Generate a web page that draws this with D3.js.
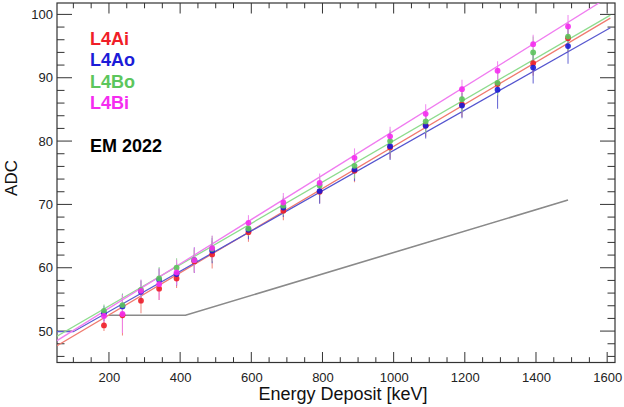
<!DOCTYPE html>
<html>
<head>
<meta charset="utf-8">
<script src="https://cdn.jsdelivr.net/npm/d3@7"></script>
<style>
  html, body { margin: 0; padding: 0; background: #fff; }
  svg { display: block; font-family: "Liberation Sans", Arial, Helvetica, sans-serif; }
</style>
</head>
<body>
<div id="chart"></div>
<script>
// beam energies (keV) shared by all four channels
const energy = [186, 238, 290, 341, 390, 440, 490, 592, 690, 792, 890, 990, 1090, 1192, 1292, 1392, 1490];

const seriesNames = ["L4Ai", "L4Ao", "L4Bo", "L4Bi"];
const seriesColors = ["#f01e28", "#1c1cd8", "#5cc65c", "#f52cf0"];
const lineColors = ["#f07b70", "#5a5ad0", "#8fdc8f", "#f07ef0"];

// mean ADC per energy
const adcL4Ai = [50.9, 52.5, 54.8, 56.7, 58.3, 61.0, 62.1, 65.6, 69.0, 72.0, 75.3, 79.0, 82.5, 85.8, 89.0, 92.3, 96.25];
const adcL4Ao = [52.8, 53.9, 56.2, 58.1, 59.0, 61.2, 62.7, 66.0, 69.5, 72.1, 75.5, 79.2, 82.4, 85.6, 88.1, 91.6, 95.0];
const adcL4Bo = [53.2, 54.1, 56.5, 58.3, 60.0, 61.2, 63.0, 66.2, 69.8, 73.0, 76.1, 80.0, 83.1, 86.6, 89.2, 94.0, 96.5];
const adcL4Bi = [52.4, 52.7, 56.35, 57.4, 59.25, 61.2, 63.1, 67.1, 70.3, 73.4, 77.35, 80.75, 84.3, 88.2, 91.1, 95.3, 98.1];

// error bar half-heights
const errL4Ai = [0.9, 3.2, 2.0, 1.8, 1.5, 1.8, 2.2, 1.5, 1.5, 1.8, 1.8, 1.8, 1.8, 2.0, 2.0, 2.0, 2.2];
const errL4Ao = [1.2, 2.0, 1.8, 1.8, 1.8, 2.0, 2.0, 1.5, 1.5, 2.0, 1.8, 2.2, 2.0, 2.0, 3.0, 2.5, 2.8];
const errL4Bo = [1.0, 1.8, 1.5, 1.8, 1.5, 1.8, 2.0, 1.2, 1.5, 1.5, 2.0, 1.8, 1.8, 2.0, 2.0, 2.5, 2.2];
const errL4Bi = [1.2, 3.0, 1.8, 2.5, 2.0, 2.0, 2.0, 1.2, 1.5, 1.5, 1.5, 1.5, 1.5, 1.5, 1.5, 1.5, 1.8];

// linear fits: flat at fitStartAdc up to fitKnee, then rising with fitSlope up to fitEnd
const fitStart = [54, 54, 54, 54];
const fitKnee = [54, 100, 54, 54];
const fitStartAdc = [47.7, 49.9, 49.2, 48.5];
const fitSlope = [0.03325, 0.0318, 0.0326, 0.0350];
const fitEnd = [1609, 1609, 1609, 1609];

// grey reference curve
const refEnergy = [200, 415, 1490];
const refAdc = [52.5, 52.5, 70.7];

const xTicks = [200, 400, 600, 800, 1000, 1200, 1400, 1600];
const yTicks = [50, 60, 70, 80, 90, 100];

const adc = [adcL4Ai, adcL4Ao, adcL4Bo, adcL4Bi];
const err = [errL4Ai, errL4Ao, errL4Bo, errL4Bi];

const width = 624, height = 407;
const margin = { top: 3, right: 9, bottom: 44.5, left: 57 };
const iw = width - margin.left - margin.right;
const ih = height - margin.top - margin.bottom;

const x = d3.scaleLinear().domain([54, 1622]).range([0, iw]);
const y = d3.scaleLinear().domain([45.04, 101.8]).range([ih, 0]);

const svg = d3.select("#chart").append("svg")
  .attr("width", width).attr("height", height);

svg.append("defs").append("clipPath").attr("id", "frame")
  .append("rect").attr("width", iw).attr("height", ih);

const g = svg.append("g").attr("transform", `translate(${margin.left},${margin.top})`);

// ROOT-style ticks on all four sides, pointing inward
const axisColor = "#333";
const ticks = g.append("g").attr("stroke", axisColor).attr("stroke-width", 1);
const xMinor = d3.range(100, 1601, 50);
const yMinor = d3.range(46, 101, 2);
xMinor.forEach(v => {
  const len = v % 200 === 0 ? 10.5 : 5.3;
  ticks.append("line").attr("x1", x(v)).attr("x2", x(v)).attr("y1", ih).attr("y2", ih - len);
  ticks.append("line").attr("x1", x(v)).attr("x2", x(v)).attr("y1", 0).attr("y2", len);
});
yMinor.forEach(v => {
  const len = v % 10 === 0 ? 15 : 7.5;
  ticks.append("line").attr("y1", y(v)).attr("y2", y(v)).attr("x1", 0).attr("x2", len);
  ticks.append("line").attr("y1", y(v)).attr("y2", y(v)).attr("x1", iw).attr("x2", iw - len);
});

g.append("rect").attr("width", iw).attr("height", ih)
  .attr("fill", "none").attr("stroke", axisColor).attr("stroke-width", 1.2);

// tick labels via d3 axes, with the tick marks themselves hidden
const xAxis = g.append("g").attr("transform", `translate(0,${ih})`)
  .call(d3.axisBottom(x).tickValues(xTicks).tickFormat(d3.format("d")).tickSize(0).tickPadding(10));
const yAxis = g.append("g")
  .call(d3.axisLeft(y).tickValues(yTicks).tickFormat(d3.format("d")).tickSize(0).tickPadding(4));
[xAxis, yAxis].forEach(a => {
  a.select(".domain").remove();
  a.selectAll("text").attr("font-size", 13).attr("fill", "#222")
    .attr("font-family", "'Liberation Sans', Arial, sans-serif");
});

const plot = g.append("g").attr("clip-path", "url(#frame)");

// grey reference
plot.append("path")
  .datum(refEnergy.map((e, i) => [e, refAdc[i]]))
  .attr("fill", "none").attr("stroke", "#8a8a8a").attr("stroke-width", 1.6)
  .attr("d", d3.line().x(d => x(d[0])).y(d => y(d[1])));

// fit lines
seriesNames.forEach((name, s) => {
  const pts = [
    [fitStart[s], fitStartAdc[s]],
    [fitKnee[s], fitStartAdc[s]],
    [fitEnd[s], fitStartAdc[s] + fitSlope[s] * (fitEnd[s] - fitKnee[s])]
  ];
  plot.append("path").datum(pts)
    .attr("fill", "none").attr("stroke", lineColors[s]).attr("stroke-width", 1.3)
    .attr("d", d3.line().x(d => x(d[0])).y(d => y(d[1])));
});

// error bars
seriesNames.forEach((name, s) => {
  plot.append("g").attr("stroke", lineColors[s]).attr("stroke-width", 1.1).attr("opacity", 0.85)
    .selectAll("line").data(energy).join("line")
    .attr("x1", d => x(d)).attr("x2", d => x(d))
    .attr("y1", (d, i) => y(adc[s][i] - err[s][i]))
    .attr("y2", (d, i) => y(adc[s][i] + err[s][i]));
});

// markers
seriesNames.forEach((name, s) => {
  plot.append("g").attr("fill", seriesColors[s]).attr("opacity", 0.9)
    .selectAll("circle").data(energy).join("circle")
    .attr("cx", d => x(d))
    .attr("cy", (d, i) => y(adc[s][i]))
    .attr("r", 2.9);
});

// legend text
const legend = svg.append("g").attr("font-weight", "bold").attr("font-size", 18);
seriesNames.forEach((name, s) => {
  legend.append("text").attr("x", 90).attr("y", 45 + s * 21.3)
    .attr("fill", seriesColors[s]).text(name);
});
legend.append("text").attr("x", 90).attr("y", 152).attr("fill", "#000").text("EM 2022");

// axis titles
svg.append("text").attr("x", 343).attr("y", 400).attr("text-anchor", "middle")
  .attr("font-size", 18).attr("fill", "#111").text("Energy Deposit [keV]");
svg.append("text").attr("transform", "translate(17,178) rotate(-90)")
  .attr("text-anchor", "middle").attr("font-size", 17).attr("fill", "#111").text("ADC");
</script>
</body>
</html>
